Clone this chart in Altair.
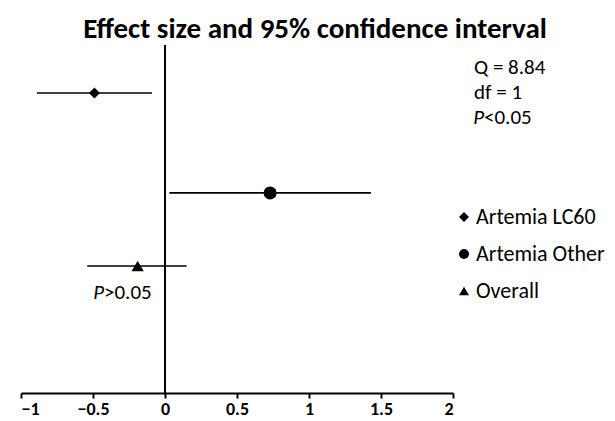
import altair as alt
import pandas as pd

groups = ["Artemia LC60", "Artemia Other", "Overall"]
effect = [-0.49, 0.73, -0.19]
ci_low = [-0.89, 0.03, -0.54]
ci_high = [-0.09, 1.43, 0.15]
row = [1.38, 4.25, 6.35]
shapes = ["diamond", "circle", "triangle-up"]
sizes = [120, 170, 150]
x_ticks = [-1, -0.5, 0, 0.5, 1, 1.5, 2]
stat_lines = ["Q = 8.84", "df = 1"]

FONT = "Carlito, Lato, sans-serif"
FS = 21

df = pd.DataFrame({"group": groups, "effect": effect, "low": ci_low,
                   "high": ci_high, "row": row})

xs = alt.Scale(domain=[-1, 2], nice=False, zero=False)
ys = alt.Scale(domain=[0, 10], reverse=True, nice=False, zero=False)

base = alt.Chart(df)

ci = base.mark_rule(color="black", strokeWidth=1.6).encode(
    x=alt.X("low:Q", scale=xs,
            axis=alt.Axis(values=x_ticks, title=None, grid=False,
                          domainColor="black", domainWidth=2, tickColor="black",
                          tickWidth=2, tickSize=5, labelFontSize=18,
                          labelFontWeight="bold", labelColor="black",
                          labelFont=FONT, labelPadding=2, format="~g")),
    x2="high:Q",
    y=alt.Y("row:Q", scale=ys, axis=None),
)

shape_enc = alt.Shape(
    "group:N", scale=alt.Scale(domain=groups, range=shapes),
    legend=alt.Legend(title=None, orient="none", legendX=432, legendY=161,
                      labelFontSize=22, labelFont=FONT, labelColor="black",
                      symbolFillColor="black", symbolStrokeColor="black",
                      symbolSize=100, rowPadding=15, labelOffset=1))

pt_layers = []
for g, s in zip(groups, sizes):
    pt_layers.append(
        base.transform_filter(alt.datum.group == g).mark_point(
            filled=True, opacity=1, color="black", size=s).encode(
            x=alt.X("effect:Q", scale=xs),
            y=alt.Y("row:Q", scale=ys, axis=None),
            shape=shape_enc,
        )
    )

zero = alt.Chart(pd.DataFrame({"x": [0]})).mark_rule(
    color="black", strokeWidth=2).encode(x=alt.X("x:Q", scale=xs))

stats = alt.Chart(pd.DataFrame({"t": stat_lines, "i": [0, 1]})).mark_text(
    align="left", baseline="middle", fontSize=FS, font=FONT, color="black"
).encode(text="t:N", x=alt.value(453), y=alt.value(23),
         yOffset=alt.YOffset("i:Q", scale=alt.Scale(domain=[0, 1], range=[0, 25])))

p_it = alt.Chart(pd.DataFrame({"t": ["P", "P"], "xp": [463, 83], "yp": [73, 248]})).mark_text(
    align="right", baseline="middle", fontSize=FS, font=FONT, fontStyle="italic",
    color="black").encode(text="t:N", x=alt.X("xp:Q", scale=None), y=alt.Y("yp:Q", scale=None))

p_rest = alt.Chart(pd.DataFrame({"t": ["<0.05", ">0.05"], "xp": [463, 83], "yp": [73, 248]})).mark_text(
    align="left", baseline="middle", fontSize=FS, font=FONT,
    color="black").encode(text="t:N", x=alt.X("xp:Q", scale=None), y=alt.Y("yp:Q", scale=None))

chart = alt.layer(zero, ci, *pt_layers, stats, p_it, p_rest).properties(
    width=432, height=348,
    title=alt.TitleParams("Effect size and 95% confidence interval",
                          fontSize=29, fontWeight="bold", font=FONT,
                          color="black", anchor="middle", dx=78, offset=0),
    autosize=alt.AutoSizeParams(type="none"),
    padding={"left": 13, "top": 37, "right": 154, "bottom": 25},
).configure_view(stroke=None)

chart.save("out.html", embed_options={"renderer": "svg", "actions": False})
